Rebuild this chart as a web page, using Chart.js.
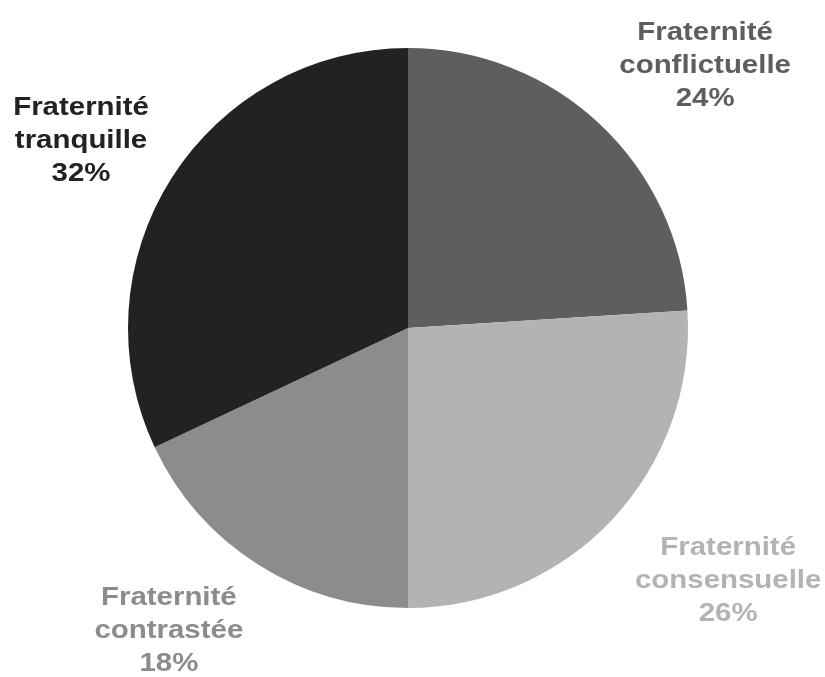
<!DOCTYPE html>
<html>
<head>
<meta charset="utf-8">
<script src="https://cdn.jsdelivr.net/npm/chart.js@4"></script>
<style>
  body { margin: 0; background: #fff; }
</style>
</head>
<body>
<canvas id="myChart" width="825" height="677"></canvas>
<script>
const labels = [
    ['Fraternité', 'conflictuelle'],
    ['Fraternité', 'consensuelle'],
    ['Fraternité', 'contrastée'],
    ['Fraternité', 'tranquille']
];
const values = [24, 26, 18, 32];
const colors = ['#5e5e5e', '#b3b3b3', '#8c8c8c', '#222222'];

// label placement: distance from centre (in radii) and angle tweak (degrees)
const labelDist = [1.419, 1.455, 1.375, 1.347];
const labelTurn = [5.2, -5.0, 6.0, -2.5];

const outsideLabels = {
    id: 'outsideLabels',
    afterDraw(chart) {
        const ctx = chart.ctx;
        const meta = chart.getDatasetMeta(0);
        ctx.save();
        ctx.font = 'bold 26.5px "Liberation Sans", Arial, sans-serif';
        ctx.textAlign = 'center';
        ctx.textBaseline = 'middle';
        meta.data.forEach((arc, i) => {
            const p = arc.getProps(['x', 'y', 'startAngle', 'endAngle', 'outerRadius'], true);
            const mid = (p.startAngle + p.endAngle) / 2 + labelTurn[i] * Math.PI / 180;
            const r = p.outerRadius * labelDist[i];
            const cx = p.x + Math.cos(mid) * r;
            const cy = p.y + Math.sin(mid) * r;
            const lines = labels[i].concat([values[i] + '%']);
            ctx.fillStyle = colors[i];
            lines.forEach((line, j) => {
                ctx.save();
                ctx.translate(cx, cy + 1 + (j - 1) * 33);
                ctx.scale(1.11, 1);
                ctx.fillText(line, 0, 0);
                ctx.restore();
            });
        });
        ctx.restore();
    }
};

const ctx = document.getElementById('myChart').getContext('2d');
new Chart(ctx, {
    type: 'pie',
    data: {
        labels: labels.map(l => l.join(' ')),
        datasets: [{
            data: values,
            backgroundColor: colors,
            borderWidth: 0
        }]
    },
    options: {
        responsive: false,
        animation: false,
        layout: {
            padding: { top: 48, bottom: 69, left: 128, right: 137 }
        },
        plugins: {
            legend: { display: false },
            tooltip: { enabled: false }
        }
    },
    plugins: [outsideLabels]
});
</script>
</body>
</html>
